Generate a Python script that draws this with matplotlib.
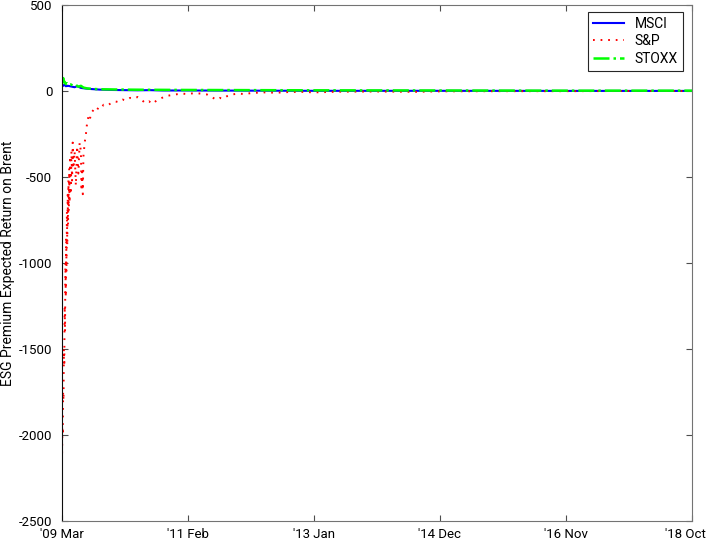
import numpy as np
import matplotlib
matplotlib.use('Agg')
import matplotlib.pyplot as plt
import matplotlib.transforms as mtransforms

plt.rcParams['font.family'] = ['Roboto', 'DejaVu Sans']
plt.rcParams['axes.unicode_minus'] = False

# x is in weeks from 2009 Mar
tick_pos = [0, 100, 200, 300, 400, 500]
tick_labels = ["'09 Mar", "'11 Feb", "'13 Jan", "'14 Dec", "'16 Nov", "'18 Oct"]

sp_week = [0, 0.3, 0.6, 0.9, 1.2, 1.5, 1.8, 2.1, 2.4, 2.7, 3.0, 3.3, 3.6, 3.9, 4.2,
           4.5, 4.8, 5.1, 5.4, 5.7, 6.0, 6.5, 7.0, 7.5, 8.0, 8.5, 9, 10, 11, 12, 13,
           14, 15, 15.5, 16, 16.5, 17, 18, 19, 20, 21, 22, 23, 25, 27, 29, 31, 33,
           36, 39, 42, 45, 48, 51, 54, 57, 60, 63, 66, 69, 72, 75, 78, 82, 86, 90,
           95, 100, 105, 110, 115, 119, 122, 125, 128, 131, 135, 140, 145, 150, 160,
           170, 180, 190, 200, 220, 250, 280, 300, 350, 400, 450, 500]
sp_val = [-2150, -1950, -2000, -1750, -1800, -1500, -1600, -1250, -1400, -1000, -1200,
          -850, -1050, -700, -900, -600, -780, -520, -700, -450, -650, -380, -600,
          -350, -520, -300, -450, -350, -550, -320, -480, -300, -350, -580, -450,
          -600, -380, -300, -250, -180, -150, -170, -130, -110, -120, -95, -100, -80,
          -85, -70, -60, -65, -50, -55, -40, -45, -35, -50, -70, -60, -75, -55, -45,
          -30, -25, -20, -15, -18, -12, -15, -20, -35, -50, -40, -45, -30, -20, -15,
          -18, -12, -8, -10, -6, -5, -8, -4, -3, -5, -2, -1, -1, 0, 0]

msci_week = [0, 1, 2, 3, 5, 8, 10, 12, 15, 18, 22, 26, 30, 40, 50, 60, 70, 80, 100,
             150, 200, 300, 400, 500]
msci_val = [35, 30, 38, 28, 30, 25, 22, 28, 18, 15, 12, 10, 8, 6, 5, 4, 5, 3, 3,
            2, 1, 1, 0.5, 0.5]

stoxx_week = [0, 0.5, 1, 1.5, 2, 3, 4, 5, 7, 9, 11, 13, 15, 17, 20, 25, 30, 40, 50,
              70, 100, 150, 200, 300, 400, 500]
stoxx_val = [80, 60, 75, 50, 55, 40, 45, 35, 38, 30, 35, 25, 30, 20, 15, 12, 10, 9, 8,
             7, 6, 5, 4, 3, 2, 2]

fs = 9.5

fig = plt.figure(figsize=(7.09, 5.41), dpi=100)
ax = fig.add_axes([62 / 709, 20 / 541, 630 / 709, 516 / 541])

ax.plot(msci_week, msci_val, color='#0000ff', lw=1.5, label='MSCI')
ax.plot(sp_week, sp_val, color='#ff0000', lw=1.4, ls=(0, (0.9, 3.0)), label='S&P')
ax.plot(stoxx_week, stoxx_val, color='#00ff00', lw=1.8, ls='-.', label='STOXX')

ax.set_xlim(0, 500)
ax.set_ylim(-2500, 500)
ax.set_xticks(tick_pos)
ax.set_xticklabels(tick_labels)
ax.set_yticks(np.arange(-2500, 501, 500))
ax.set_ylabel('ESG Premium Expected Return on Brent', fontsize=10)
ax.yaxis.set_label_coords(-47 / 630, 0.5)
ax.tick_params(direction='in', length=4.3, top=True, right=True, labelsize=fs,
               color='0.3')
ax.tick_params(axis='y', pad=7)
ax.tick_params(axis='x', pad=5)
for side in ['top', 'right', 'bottom']:
    ax.spines[side].set_color('0.45')
ax.spines['left'].set_color('0.05')

# nudge the last date label so it stays inside the figure
last = ax.get_xticklabels()[-1]
last.set_transform(last.get_transform() +
                   mtransforms.ScaledTranslation(-5 / 72, 0, fig.dpi_scale_trans))

leg = ax.legend(loc='upper right', bbox_to_anchor=(621 / 630, 509 / 516),
                borderaxespad=0, fontsize=10, fancybox=False, framealpha=1,
                edgecolor='0.15', borderpad=0.35, labelspacing=0.25,
                handlelength=2.2, handletextpad=0.8)
leg.get_frame().set_linewidth(0.8)

fig.savefig('out.png', dpi=100)
